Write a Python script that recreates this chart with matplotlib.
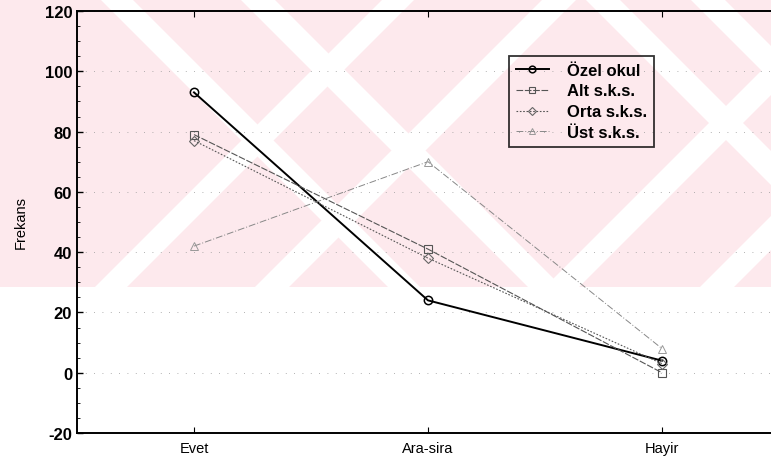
import matplotlib
matplotlib.use("Agg")
import matplotlib.pyplot as plt
from matplotlib.patches import Polygon, Rectangle

plt.rcParams["font.family"] = ["Liberation Sans", "DejaVu Sans"]
plt.rcParams["axes.unicode_minus"] = False

categories = ["Evet", "Ara-sira", "Hayir"]
ozel_okul = [93, 24, 4]
alt_sks = [79, 41, 0]
orta_sks = [77, 38, 3]
ust_sks = [42, 70, 8]

W, H = 771, 464
fig = plt.figure(figsize=(W / 100, H / 100), dpi=100)

# scanned-page watermark behind the chart (pixel coords, y down)
bg = fig.add_axes([0, 0, 1, 1], zorder=0)
bg.set_xlim(0, W)
bg.set_ylim(H, 0)
bg.axis("off")
pink = "#fde9ed"
bg.add_patch(Rectangle((0, 0), W, 288, color=pink, lw=0))
band_h = 288
for xb, w in [(95, 32), (255, 34), (545, 34), (700, 34)]:
    bg.add_patch(Polygon([(xb, band_h), (xb + w, band_h),
                          (xb + w + 288, 0), (xb + 288, 0)],
                         color="white", lw=0))
for xt, w in [(100, 32), (240, 34), (585, 34), (690, 34)]:
    bg.add_patch(Polygon([(xt, 0), (xt + w, 0),
                          (xt + w + 288, band_h), (xt + 288, band_h)],
                         color="white", lw=0))
bg.add_patch(Rectangle((0, 288), W, H - 288, color="white", lw=0))

x0, x1 = 77, 779
y0, y1 = 12, 434
ax = fig.add_axes([x0 / W, 1 - y1 / H, (x1 - x0) / W, (y1 - y0) / H], zorder=1)
ax.patch.set_alpha(0)

x = list(range(len(categories)))
ax.plot(x, ozel_okul, color="black", lw=1.4, marker="o", ms=6,
        mfc="none", mec="black", mew=1.1, label="Özel okul")
ax.plot(x, alt_sks, color="#555555", lw=0.8, ls=(0, (6, 1.5)), marker="s",
        ms=6, mfc="none", mec="#555555", mew=0.8, label="Alt s.k.s.")
ax.plot(x, orta_sks, color="#555555", lw=0.8, ls=(0, (1.5, 1.5)), marker="D",
        ms=5, mfc="none", mec="#666666", mew=0.8, label="Orta s.k.s.")
ax.plot(x, ust_sks, color="#888888", lw=0.7, ls=(0, (7, 2, 1, 2)), marker="^",
        ms=6, mfc="none", mec="#999999", mew=0.7, label="Üst s.k.s.")

ax.set_xlim(-0.5, 2.5)
ax.set_ylim(-20, 120)
ax.set_xticks(x)
ax.set_xticklabels(categories, fontsize=10.5)
ax.set_yticks(range(-20, 121, 20))
ax.set_yticks(range(-20, 121, 5), minor=True)
ax.tick_params(axis="y", labelsize=12, direction="in", length=4, width=1)
ax.tick_params(axis="y", which="minor", direction="in", length=2)
ax.tick_params(axis="x", direction="in", length=4, top=True, pad=6)
for lab in ax.get_yticklabels():
    lab.set_fontweight("bold")
for s in ax.spines.values():
    s.set_linewidth(1.4)

ax.yaxis.grid(True, color="#999999", lw=0.6, ls=(0, (1, 9)))
ax.set_ylabel("Frekans", fontsize=10.5, labelpad=12)

leg = ax.legend(loc="upper left",
                bbox_to_anchor=((509 - x0) / (x1 - x0), (434 - 57) / (y1 - y0)),
                prop={"size": 12, "weight": "bold"}, frameon=True,
                fancybox=False, edgecolor="black", handlelength=2.0,
                handletextpad=1.1, borderpad=0.4, labelspacing=0.35,
                borderaxespad=0, markerscale=0.8)
leg.get_frame().set_linewidth(1.3)
leg.get_frame().set_facecolor("none")

fig.savefig("out.png", dpi=100)
